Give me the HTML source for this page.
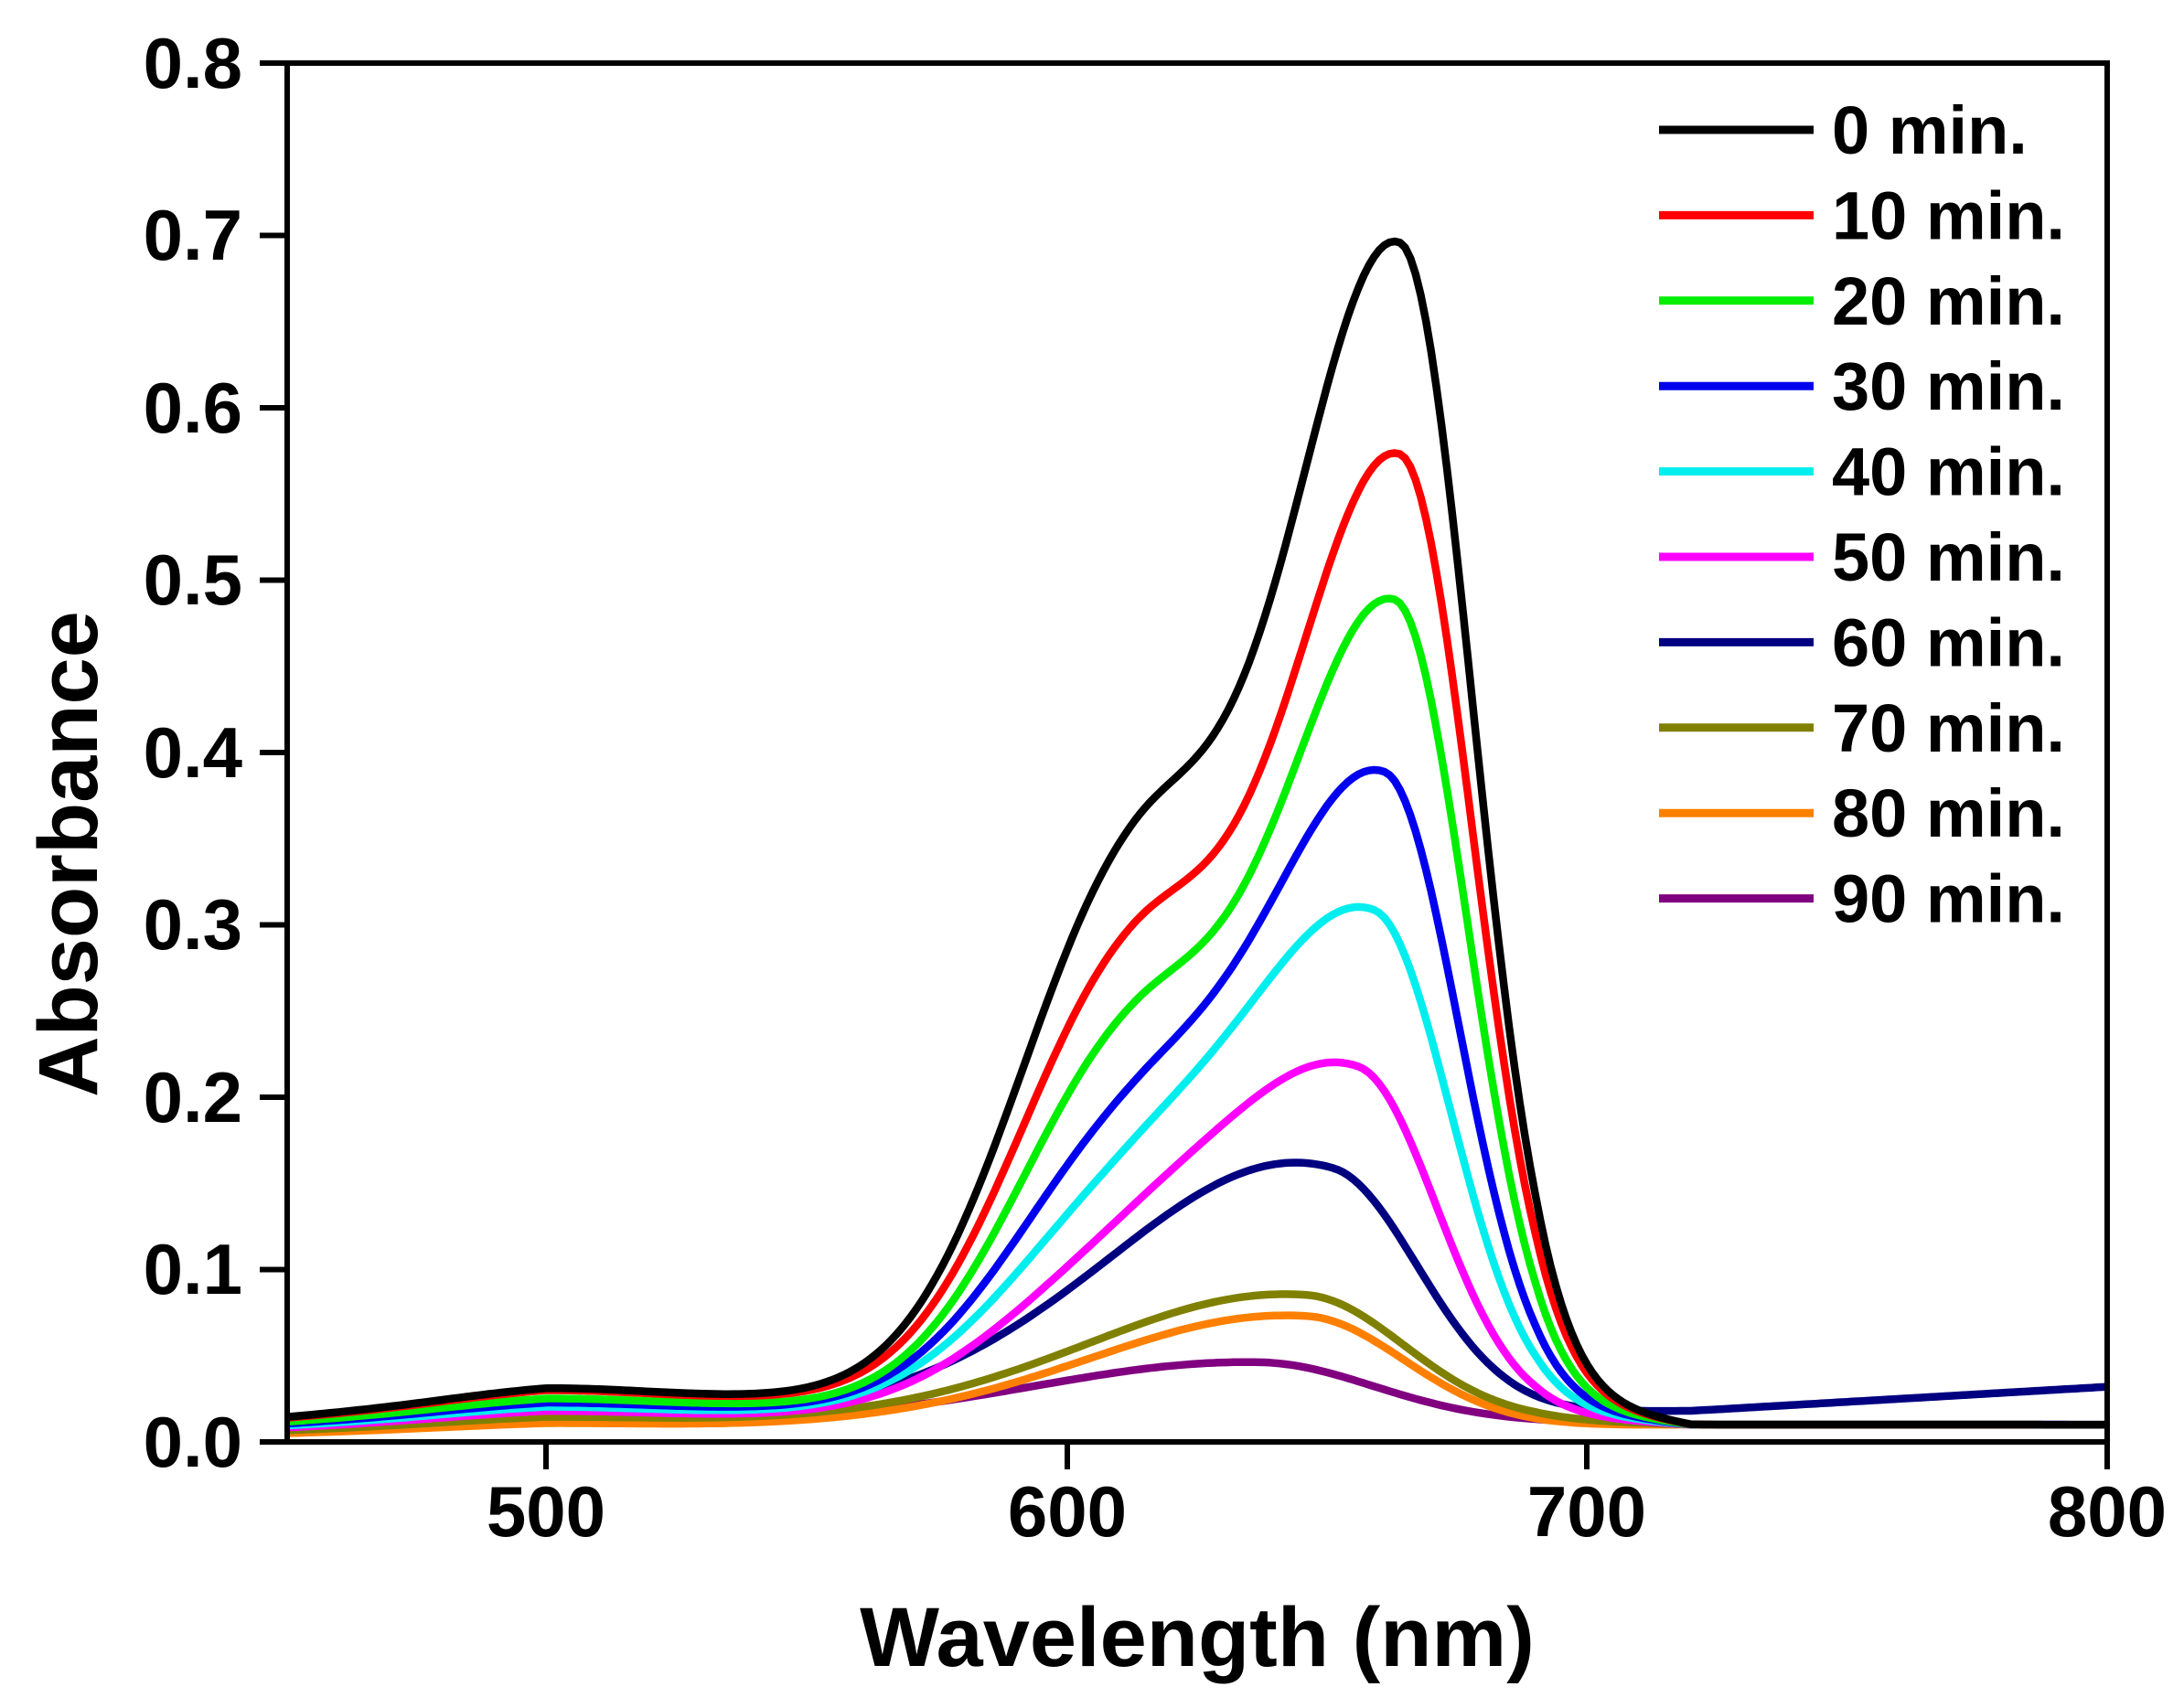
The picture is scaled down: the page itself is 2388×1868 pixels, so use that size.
<!DOCTYPE html>
<html><head><meta charset="utf-8"><style>
html,body{margin:0;padding:0;background:#fff;}
svg{display:block;}
text{font-family:"Liberation Sans",Arial,sans-serif;font-weight:bold;fill:#000;}
</style></head><body>
<svg id="c" width="2388" height="1868" viewBox="0 0 2388 1868" xmlns="http://www.w3.org/2000/svg">
<rect width="2388" height="1868" fill="#fff"/>
<g id="curves" fill="none" stroke-width="8.5" stroke-linejoin="round"></g>
<rect x="314" y="69" width="1990" height="1508" fill="none" stroke="#000" stroke-width="6"/>
<g stroke="#000" stroke-width="6" id="ticks"></g>
<g font-size="78" text-anchor="end">
<text x="265" y="1604">0.0</text><text x="265" y="1415">0.1</text><text x="265" y="1227">0.2</text>
<text x="265" y="1038">0.3</text><text x="265" y="850">0.4</text><text x="265" y="661">0.5</text>
<text x="265" y="473">0.6</text><text x="265" y="284">0.7</text><text x="265" y="96">0.8</text>
</g>
<g font-size="78" text-anchor="middle">
<text x="597" y="1680">500</text><text x="1167" y="1680">600</text><text x="1735" y="1680">700</text><text x="2304" y="1680">800</text>
</g>
<text x="1309" y="1822" font-size="92" text-anchor="middle">Wavelength (nm)</text>
<text transform="translate(106,934) rotate(-90)" font-size="92" text-anchor="middle">Absorbance</text>
<g id="legend" font-size="74"></g>
</svg>
<script>
var X=function(l){return 314+(l-450)*1990/350;};
var Y=function(a){return 1577-a*1885;};
var S=[
['#000000',664,0.66,0.29,0.026,22,14,0],
['#ff0000',664,0.54,0.24,0.025,22,14,0],
['#00ee00',663,0.46,0.20,0.021,22,14,0],
['#0000ee',661,0.36,0.15,0.019,23,14.5,0],
['#00eeee',659,0.28,0.115,0.017,24,15,0],
['#ff00ff',656,0.19,0.08,0.015,25,15.5,0],
['#000080',651,0.125,0.045,0.017,30,17,1],
['#808000',646,0.066,0.012,0.012,36,19,0],
['#ff8000',646,0.058,0.010,0.009,36,19,0],
['#800080',637,0.032,0.004,0.011,40,22,0]];
var names=['0 min.','10 min.','20 min.','30 min.','40 min.','50 min.','60 min.','70 min.','80 min.','90 min.'];
var g=document.getElementById('curves'),ns='http://www.w3.org/2000/svg';
for(var i=S.length-1;i>=0;i--){var s=S[i],d='';
for(var l=450;l<=800;l+=1){
 var sl=l<s[1]?s[5]:s[6];
 var m=s[2]*Math.exp(-Math.pow(l-s[1],2)/(2*sl*sl));
 var ss=l<612?22+(s[5]-22):20+(s[5]-22);
 var sh=s[3]*Math.exp(-Math.pow(l-612,2)/(2*ss*ss));
 var b=s[4]*(0.55+0.45*Math.min(1,(l-450)/50));
 b+=s[4]*0.2*Math.exp(-Math.pow(l-500,2)/(2*20*20));
 var t=Math.min(1,Math.max(0,(l-690)/30));
 b=b*(1-t)+(0.01+(s[7]?0.008+0.014*(l-720)/80*(l>720?1:0):0))*t;
 var a=m+sh+b;
 d+=(l==450?'M':'L')+X(l).toFixed(1)+' '+Y(a).toFixed(1);}
 var p=document.createElementNS(ns,'path');p.setAttribute('d',d);p.setAttribute('stroke',s[0]);g.appendChild(p);}
var tk=document.getElementById('ticks');
for(var k=0;k<=8;k++){var y=1577-k*188.5;
 var ln=document.createElementNS(ns,'line');ln.setAttribute('x1',284);ln.setAttribute('x2',314);ln.setAttribute('y1',y);ln.setAttribute('y2',y);tk.appendChild(ln);}
[597,1167,1735,2304].forEach(function(x){var ln=document.createElementNS(ns,'line');ln.setAttribute('x1',x);ln.setAttribute('x2',x);ln.setAttribute('y1',1577);ln.setAttribute('y2',1607);tk.appendChild(ln);});
var lg=document.getElementById('legend');
for(var i=0;i<10;i++){var y=142+i*93.4;
 var ln=document.createElementNS(ns,'line');ln.setAttribute('x1',1814);ln.setAttribute('x2',1983);ln.setAttribute('y1',y);ln.setAttribute('y2',y);ln.setAttribute('stroke',S[i][0]);ln.setAttribute('stroke-width',9);lg.appendChild(ln);
 var t=document.createElementNS(ns,'text');t.setAttribute('x',2003);t.setAttribute('y',y+26);t.textContent=names[i];lg.appendChild(t);}
</script>
</body></html>
